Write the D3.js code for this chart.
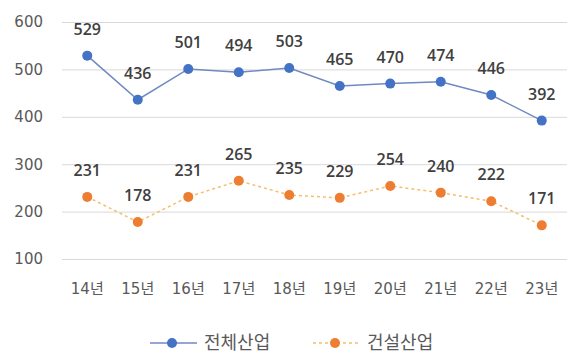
<!DOCTYPE html>
<html>
<head>
<meta charset="utf-8">
<script src="https://cdn.jsdelivr.net/npm/d3@7"></script>
<style>
  body { margin: 0; background: #fff; }
  svg { font-family: "DejaVu Sans", "Noto Sans CJK KR", sans-serif; }
</style>
</head>
<body>
<svg width="580" height="362"></svg>
<script>
const years = ['14년', '15년', '16년', '17년', '18년', '19년', '20년', '21년', '22년', '23년']
const total = [529, 436, 501, 494, 503, 465, 470, 474, 446, 392]
const construction = [231, 178, 231, 265, 235, 229, 254, 240, 222, 171]
const yTicks = [100, 200, 300, 400, 500, 600]
const seriesNames = ['전체산업', '건설산업']

const svg = d3.select('svg')
const margin = {left: 62, right: 13, top: 22, bottom: 103}
const width = +svg.attr('width')
const height = +svg.attr('height')
const innerWidth = width - margin.left - margin.right
const innerHeight = height - margin.top - margin.bottom

const xScale = d3.scaleBand()
  .domain(years)
  .range([0, innerWidth])

const yScale = d3.scaleLinear()
  .domain([100, 600])
  .range([innerHeight, 0])

const g = svg.append('g')
  .attr('transform', `translate(${margin.left}, ${margin.top})`)

// gridlines + y labels
const yAxisG = g.append('g')
  .call(d3.axisLeft(yScale).tickValues(yTicks).tickSize(-innerWidth).tickPadding(19))
yAxisG.select('.domain').remove()
yAxisG.selectAll('.tick line').attr('stroke', '#d9d9d9')
yAxisG.selectAll('.tick text')
  .attr('fill', '#595959')
  .style('font-family', '"DejaVu Sans", "Noto Sans CJK KR", sans-serif')
  .style('font-size', '15px')

const xAxisG = g.append('g')
  .attr('transform', `translate(0, ${innerHeight})`)
  .call(d3.axisBottom(xScale).tickSize(0).tickPadding(24))
xAxisG.select('.domain').remove()
xAxisG.selectAll('.tick text')
  .attr('fill', '#595959')
  .style('font-family', '"DejaVu Sans", "Noto Sans CJK KR", sans-serif')
  .style('font-size', '15px')

const cx = (d, i) => xScale(years[i]) + xScale.bandwidth() / 2

const series = [
  {name: seriesNames[0], values: total, color: '#4472C4', line: '#7089c2', dash: null},
  {name: seriesNames[1], values: construction, color: '#ED7D31', line: '#f6bd6a', dash: '3,3'}
]

const line = d3.line()
  .x(cx)
  .y(d => yScale(d))

series.forEach(s => {
  g.append('path')
    .datum(s.values)
    .attr('fill', 'none')
    .attr('stroke', s.line)
    .attr('stroke-width', 1.5)
    .attr('stroke-dasharray', s.dash)
    .attr('d', line)

  g.selectAll(null)
    .data(s.values)
    .enter()
    .append('circle')
    .attr('cx', cx)
    .attr('cy', d => yScale(d))
    .attr('r', 5)
    .attr('fill', s.color)

  g.selectAll(null)
    .data(s.values)
    .enter()
    .append('text')
    .attr('x', cx)
    .attr('y', d => yScale(d) - 21)
    .attr('text-anchor', 'middle')
    .attr('fill', '#404040')
    .style('font-family', '"Open Sans", sans-serif')
    .style('font-size', '16px')
    .style('font-weight', 600)
    .text(d => d)
})

// legend
const legend = svg.append('g')
  .attr('transform', 'translate(150, 343)')
const legendX = [0, 163]
series.forEach((s, i) => {
  const lg = legend.append('g').attr('transform', `translate(${legendX[i]}, 0)`)
  lg.append('line')
    .attr('x1', 0).attr('x2', 47)
    .attr('stroke', s.line)
    .attr('stroke-width', 1.5)
    .attr('stroke-dasharray', s.dash)
  lg.append('circle')
    .attr('cx', 22)
    .attr('r', 5)
    .attr('fill', s.color)
  lg.append('text')
    .attr('x', 54)
    .attr('dy', '0.35em')
    .attr('fill', '#595959')
    .style('font-family', '"Noto Sans CJK KR", sans-serif')
    .style('font-size', '18px')
    .text(s.name)
})
</script>
</body>
</html>
